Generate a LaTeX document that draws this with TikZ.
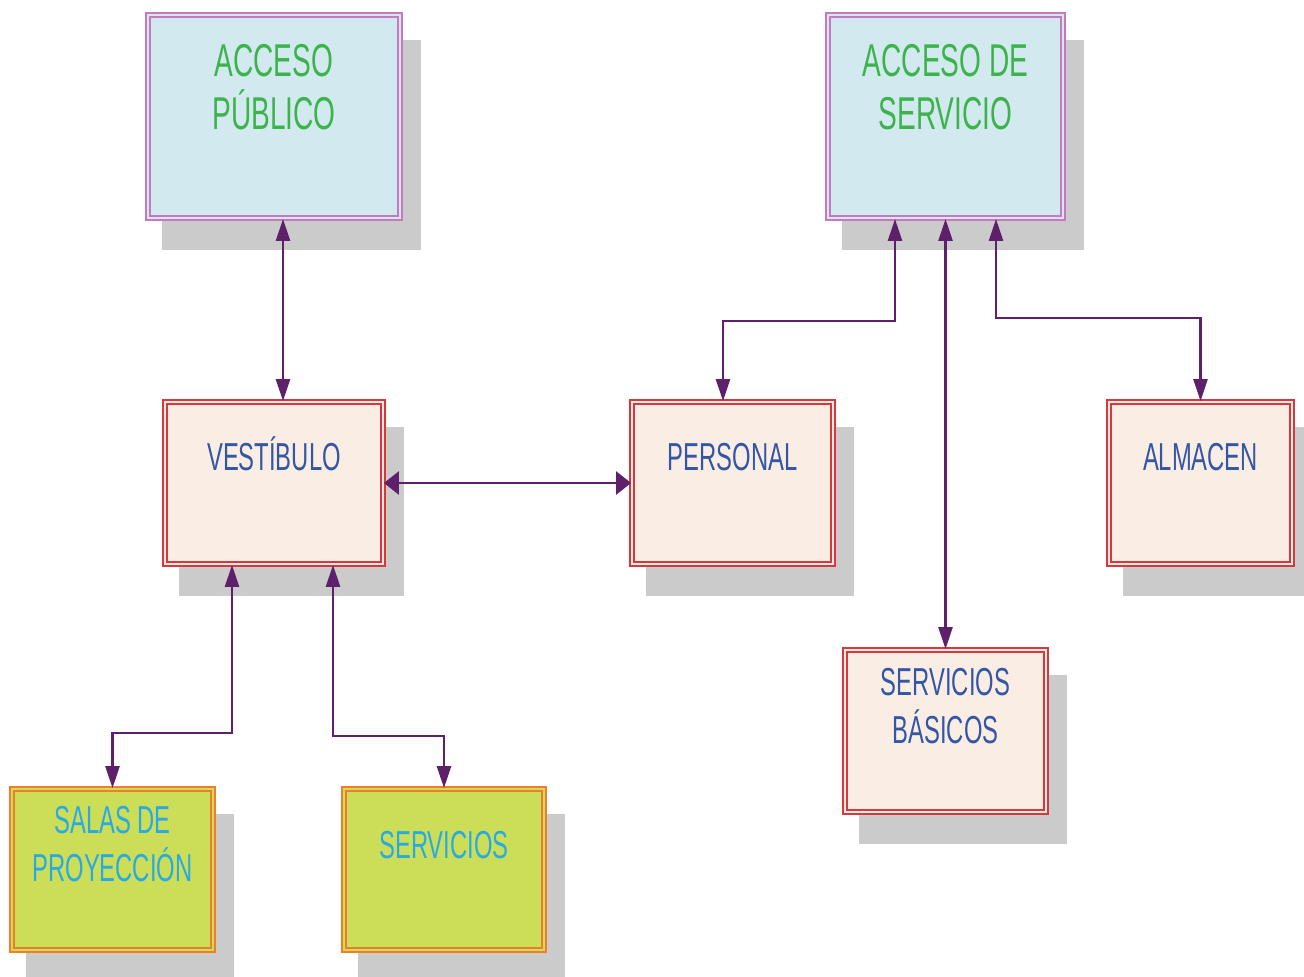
\documentclass[tikz,border=0pt]{standalone}
\usepackage{fontspec}
\newfontfamily\narrowfont[FakeStretch=0.61]{Liberation Sans}
\usetikzlibrary{positioning, arrows.meta, backgrounds}

\definecolor{accfill}{RGB}{210,233,239}
\definecolor{accline}{RGB}{200,120,190}
\definecolor{acctext}{RGB}{60,180,75}
\definecolor{zonfill}{RGB}{250,238,228}
\definecolor{zonline}{RGB}{217,54,62}
\definecolor{zontext}{RGB}{52,86,166}
\definecolor{salfill}{RGB}{204,221,88}
\definecolor{salline}{RGB}{240,125,45}
\definecolor{saltext}{RGB}{41,171,226}
\definecolor{shadowgray}{RGB}{203,203,203}
\definecolor{arrowcol}{RGB}{95,32,107}

\begin{document}
\begin{tikzpicture}[x=0.5pt, y=-0.5pt,
    box/.style={draw, line width=0.9pt, double distance=1.4pt, inner sep=0pt},
    acceso/.style={box, draw=accline, double=accfill, fill=accfill},
    zona/.style={box, draw=zonline, double=zonfill, fill=zonfill},
    sala/.style={box, draw=salline, double=salfill, fill=salfill},
    lbl/.style={inner sep=0pt, align=center, font=\narrowfont\fontsize{19.5pt}{24pt}\selectfont},
    biglbl/.style={lbl, font=\narrowfont\fontsize{23pt}{26.5pt}\selectfont},
    vconn/.style={<->, >={Triangle[length=11pt, width=7pt]}, line width=1.2pt, arrowcol},
    hconn/.style={vconn, >={Triangle[length=7.5pt, width=11.5pt]}}]

    \useasboundingbox (0,0) rectangle (1304,976);

    % Accesos
    \node[acceso, minimum width=126pt, minimum height=101.5pt] (ap) at (274,116.5) {};
    \node[acceso, minimum width=117.5pt, minimum height=101.5pt] (as) at (945.5,116.5) {};

    % Zonas
    \node[zona, minimum width=109pt, minimum height=81pt] (ve) at (274,483) {};
    \node[zona, minimum width=100.5pt, minimum height=81pt] (pe) at (732.5,483) {};
    \node[zona, minimum width=91.5pt, minimum height=81pt] (al) at (1200.5,483) {};
    \node[zona, minimum width=100.5pt, minimum height=81pt] (sb) at (945.5,731) {};

    % Salas
    \node[sala, minimum width=100.5pt, minimum height=80.5pt] (sp) at (112.5,869.5) {};
    \node[sala, minimum width=100pt, minimum height=80.5pt] (se) at (444,869.5) {};

    % Shadows
    \begin{scope}[on background layer]
        \foreach \n in {ap,as,ve,pe,al,sb,sp,se}
            \fill[shadowgray] ([shift={(7.2pt,-12.7pt)}]\n.north west) rectangle ([shift={(9.8pt,-15.3pt)}]\n.south east);
    \end{scope}

    % Labels
    \node[biglbl, text=acctext, below=15pt of ap.north] (tap) {ACCESO\\PÚBLICO};
    \node[biglbl, text=acctext, below=15pt of as.north] (tas) {ACCESO DE\\SERVICIO};
    \node[lbl, text=zontext, anchor=base] (tve) at ([yshift=-34.5pt]ve.north) {VESTÍBULO};
    \node[lbl, text=zontext, anchor=base] (tpe) at ([yshift=-34.5pt]pe.north) {PERSONAL};
    \node[lbl, text=zontext, anchor=base] (tal) at ([yshift=-34.5pt]al.north) {ALMACEN};
    \node[lbl, text=zontext, below=9.5pt of sb.north] (tsb) {SERVICIOS\\BÁSICOS};
    \node[lbl, text=saltext, below=9pt of sp.north] (tsp) {SALAS DE\\PROYECCIÓN};
    \node[lbl, text=saltext, anchor=base] (tse) at ([yshift=-35pt]se.north) {SERVICIOS};

    % Connections
    \draw[vconn] ([xshift=4.5pt]ap.south) -- ([xshift=4.5pt]ve.north);
    \draw[hconn] (ve.east) -- (pe.west);
    \draw[vconn] ([xshift=-25.25pt]as.south) -- ++(0,102) -| ([xshift=-4.75pt]pe.north);
    \draw[vconn] (as.south) -- (sb.north);
    \draw[vconn] ([xshift=25.25pt]as.south) -- ++(0,99) -| (al.north);
    \draw[vconn] ([xshift=-21pt]ve.south) -- ++(0,168) -| (sp.north);
    \draw[vconn] ([xshift=29.5pt]ve.south) -- ++(0,171) -| (se.north);

\end{tikzpicture}
\end{document}
